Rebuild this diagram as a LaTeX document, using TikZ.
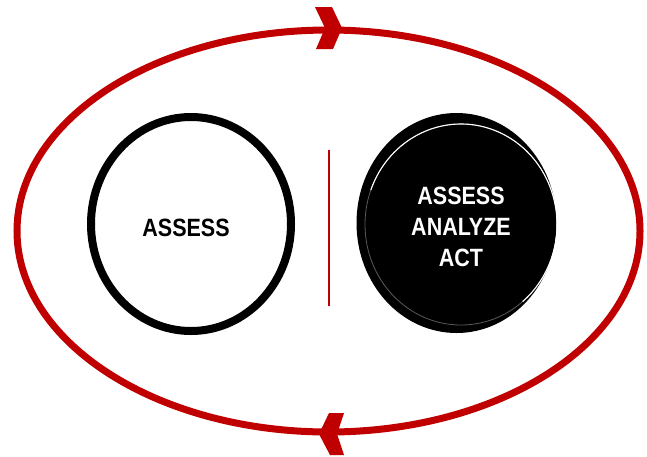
\documentclass[tikz,border=0pt]{standalone}
\usepackage{fontspec}
\setmainfont{Liberation Sans}[FakeStretch=0.86]
\definecolor{cyclered}{HTML}{C00000}
\begin{document}
\begin{tikzpicture}[x=1pt,y=-1pt,
  lbl/.style={font=\bfseries\fontsize{25}{31}\selectfont, align=center, inner sep=0pt},
  redring/.style={draw=cyclered, line width=7pt},
  chevron/.style={fill=cyclered, draw=none}]
\useasboundingbox (0,0) rectangle (647,456);
% outer cycle
\draw[redring] (328.5,231) ellipse [x radius=311.5, y radius=201];
% arrowheads
\fill[chevron] (315,7) -- (332,7) -- (342,28) -- (333,49) -- (316,49) -- (325,28) -- cycle;
\fill[chevron] (344,413) -- (329,413) -- (319,434) -- (330,455) -- (344,455) -- (337,434) -- cycle;
% divider
\draw[cyclered, line width=2pt] (328.7,150) -- (328.7,306);
% left circle
\draw[black, line width=8pt] (191,224) ellipse [x radius=100, y radius=107];
\node[lbl, text=black] (left) at (186,228) {ASSESS};
% right circle
\fill[black] (456.5,223) ellipse [x radius=100, y radius=110];
\draw[white, line width=0.8pt, opacity=0.35] (461,224.5) ellipse [x radius=96, y radius=100.5];
\draw[white, line width=1.1pt] (461,224.5) ++(200:96 and 100.5) arc [start angle=200, end angle=410, x radius=96, y radius=100.5];
\node[lbl, text=white] (right) at (461,227) {ASSESS\\ANALYZE\\ACT};
\end{tikzpicture}
\end{document}
